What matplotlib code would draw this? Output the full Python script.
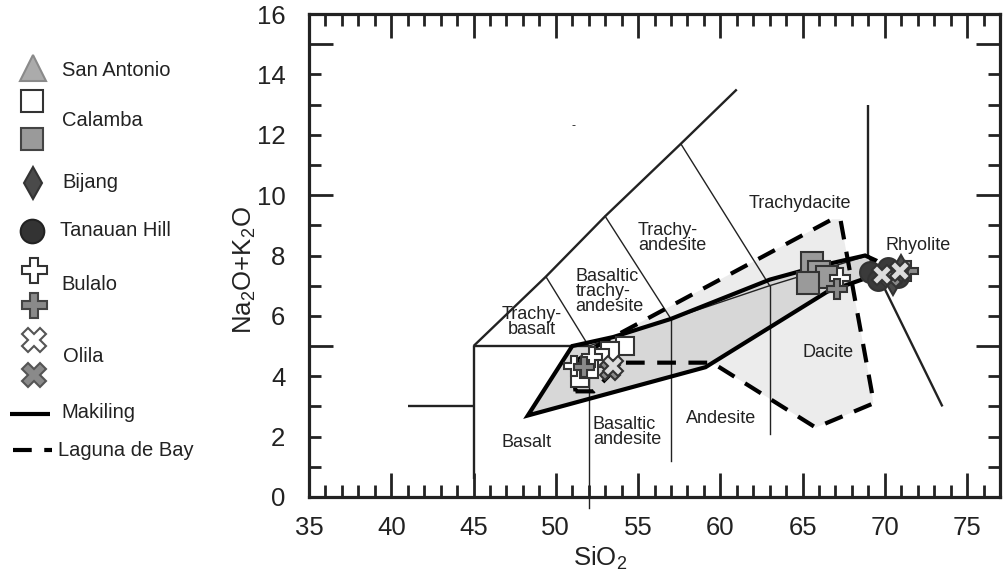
import matplotlib
matplotlib.use('Agg')
import matplotlib.pyplot as plt
from matplotlib.ticker import MultipleLocator

plt.rcParams['font.family'] = ['Liberation Sans', 'DejaVu Sans']
plt.rcParams['mathtext.fontset'] = 'custom'
plt.rcParams['mathtext.rm'] = 'Liberation Sans'
plt.rcParams['mathtext.it'] = 'Liberation Sans:italic'

INK = '#222222'

# ---- TAS classification boundaries (SiO2, Na2O+K2O) ----
tas_thick_lines = [
    ([41, 45], [3, 3]),
    ([45, 45], [0.6, 5]),
    ([45, 52], [5, 5]),
    ([45, 49.4, 53, 57.6, 61], [5, 7.3, 9.3, 11.7, 13.5]),
    ([69, 69], [8, 13]),
    ([69, 73.5], [8, 3]),
]
tas_thin_lines = [
    ([57, 57], [1.2, 5.9]),
    ([63, 63], [2.1, 7]),
    ([49.4, 52], [7.3, 5]),
    ([53, 57], [9.3, 5.9]),
    ([57.6, 63], [11.7, 7]),
    ([52, 57, 63, 69], [5, 5.9, 7, 8]),
]
tas_line_52 = ([52, 52], [-0.35, 5])

# ---- fields ----
makiling_sio2 = [48.3, 51.0, 53.5, 57.0, 63.0, 66.0, 68.8, 69.4, 68.6, 66.5, 59.1]
makiling_alk = [2.7, 5.0, 5.3, 5.9, 7.2, 7.65, 8.0, 7.85, 7.2, 6.8, 4.3]

laguna_sio2 = [51.2, 52.3, 54.0, 59.5, 65.8, 69.3, 69.2, 67.3, 66.8, 54.0, 52.5, 51.0]
laguna_alk = [3.5, 3.5, 4.45, 4.45, 2.3, 3.1, 3.5, 9.2, 9.2, 5.45, 5.0, 4.4]

# ---- samples ----
calamba_open_sio2 = [54.2, 53.3, 52.7, 51.5, 52.0]
calamba_open_alk = [5.0, 4.85, 4.6, 3.95, 4.25]
calamba_gray_sio2 = [65.6, 66.0, 66.5, 65.3]
calamba_gray_alk = [7.75, 7.45, 7.3, 7.1]
bulalo_open_sio2 = [51.1, 52.2, 67.3]
bulalo_open_alk = [4.35, 4.65, 7.25]
bulalo_gray_sio2 = [51.7, 67.1, 71.4]
bulalo_gray_alk = [4.3, 6.9, 7.5]
olila_open_sio2 = [53.5, 69.8, 70.9]
olila_open_alk = [4.35, 7.35, 7.5]
olila_gray_sio2 = [53.3, 70.4]
olila_gray_alk = [4.2, 7.3]
tanauan_sio2 = [69.1, 69.6, 70.2, 70.8]
tanauan_alk = [7.45, 7.2, 7.6, 7.3]
bijang_sio2 = [70.5, 71.0]
bijang_alk = [7.15, 7.55]

# ---- field names ----
field_labels = ['Trachy-\nbasalt', 'Basaltic\ntrachy-\nandesite', 'Trachy-\nandesite',
                'Trachydacite', 'Rhyolite', 'Dacite', 'Andesite',
                'Basaltic\nandesite', 'Basalt']
field_x = [48.55, 51.2, 55.0, 64.85, 72.0, 66.55, 60.05, 52.26, 48.2]
field_y = [5.8, 6.82, 8.58, 9.73, 8.34, 4.8, 2.6, 2.15, 1.82]
field_ha = ['center', 'left', 'left', 'center', 'center', 'center', 'center', 'left', 'center']

legend_labels = ['San Antonio', 'Calamba', 'Bijang', 'Tanauan Hill', 'Bulalo', 'Olila',
                 'Makiling', 'Laguna de Bay']

fig = plt.figure(figsize=(10.06, 5.8), dpi=100)
ax = fig.add_axes([309 / 1006, 1 - 497 / 580, 691 / 1006, 483 / 580])
ax.set_xlim(35, 77)
ax.set_ylim(0, 16)

# fills
ax.fill(laguna_sio2, laguna_alk, facecolor='#ececec', edgecolor='none', zorder=1)
ax.fill(makiling_sio2, makiling_alk, facecolor='#d7d7d7', edgecolor='none', zorder=1.5)

for xs, ys in tas_thick_lines:
    ax.plot(xs, ys, color=INK, lw=1.7, zorder=2, solid_capstyle='butt')
for xs, ys in tas_thin_lines:
    ax.plot(xs, ys, color=INK, lw=1.0, zorder=2)
ax.plot(*tas_line_52, color=INK, lw=1.0, zorder=2, clip_on=False)

# outlines
ax.fill(laguna_sio2, laguna_alk, facecolor='none', edgecolor='black', lw=3.0,
        linestyle=(0, (4.5, 3.0)), zorder=3)
ax.fill(makiling_sio2, makiling_alk, facecolor='none', edgecolor='black', lw=3.0,
        joinstyle='miter', zorder=3.2)

# samples
ms_kw = dict(linestyle='none', markeredgecolor='#333333', markeredgewidth=1.5, zorder=5)
ax.plot(calamba_open_sio2, calamba_open_alk, marker='s', markersize=13,
        markerfacecolor='white', **ms_kw)
ax.plot(calamba_gray_sio2, calamba_gray_alk, marker='s', markersize=16,
        markerfacecolor='#9a9a9a', **ms_kw)
ax.plot(bulalo_open_sio2, bulalo_open_alk, marker='P', markersize=14,
        markerfacecolor='white', **ms_kw)
ax.plot(bulalo_gray_sio2, bulalo_gray_alk, marker='P', markersize=14,
        markerfacecolor='#8a8a8a', **ms_kw)
ax.plot(tanauan_sio2, tanauan_alk, marker='o', markersize=15,
        markerfacecolor='#3a3a3a', **ms_kw)
ax.plot(bijang_sio2, bijang_alk, marker='d', markersize=14,
        markerfacecolor='#4a4a4a', **ms_kw)
ax.plot(olila_gray_sio2, olila_gray_alk, marker='X', markersize=14,
        markerfacecolor='#8a8a8a', **ms_kw)
ax.plot(olila_open_sio2, olila_open_alk, marker='X', markersize=14,
        markerfacecolor='#dddddd', **ms_kw)

for lab, x, y, ha in zip(field_labels, field_x, field_y, field_ha):
    ax.text(x, y, lab, ha=ha, va='center', fontsize=13, color=INK,
            linespacing=0.85, zorder=4)
ax.text(51.1, 12.3, '-', ha='center', va='center', fontsize=9, color=INK)

# axes styling
for sp in ax.spines.values():
    sp.set_linewidth(2.3)
    sp.set_color(INK)
ax.xaxis.set_major_locator(MultipleLocator(5))
ax.xaxis.set_minor_locator(MultipleLocator(1))
ax.yaxis.set_major_locator(MultipleLocator(5))
ax.yaxis.set_minor_locator(MultipleLocator(1))
ax.tick_params(which='both', direction='in', top=True, right=True, width=2.0, color=INK)
ax.tick_params(which='major', length=17)
ax.tick_params(which='minor', length=8.5)
ax.tick_params(axis='x', labelsize=18.5, pad=14, labelcolor=INK)
ax.tick_params(axis='y', labelleft=False)

sec = ax.secondary_yaxis('left')
sec.set_yticks(range(0, 17, 2))
sec.tick_params(length=0, labelsize=18.5, pad=17, labelcolor=INK)
sec.spines['left'].set_visible(False)

fig.text(245 / 1006, 1 - 270 / 580, 'Na$_2$O+K$_2$O', rotation=90, ha='center',
         va='center', fontsize=18.5, color=INK)
fig.text(600 / 1006, 1 - 558 / 580, 'SiO$_2$', ha='center', va='center',
         fontsize=18.5, color=INK)

# ---- legend (figure pixel coordinates) ----
lg = fig.add_axes([0, 0, 0.3, 1])
lg.set_xlim(0, 0.3 * 1006)
lg.set_ylim(580, 0)
lg.axis('off')
lg.patch.set_visible(False)
lk = dict(linestyle='none', markeredgewidth=1.5, clip_on=False)
lg.plot([33], [68], marker='^', markersize=19, markerfacecolor='#ababab',
        markeredgecolor='#8a8a8a', **lk)
lg.plot([32], [101], marker='s', markersize=16, markerfacecolor='white',
        markeredgecolor='#333333', **lk)
lg.plot([32], [139], marker='s', markersize=16, markerfacecolor='#9a9a9a',
        markeredgecolor='#444444', **lk)
lg.plot([33], [183], marker='d', markersize=16, markerfacecolor='#4a4a4a',
        markeredgecolor='#333333', **lk)
lg.plot([32], [231], marker='o', markersize=17, markerfacecolor='#333333',
        markeredgecolor='#222222', **lk)
lg.plot([34], [270], marker='P', markersize=18, markerfacecolor='white',
        markeredgecolor='#333333', **lk)
lg.plot([34], [305], marker='P', markersize=18, markerfacecolor='#8a8a8a',
        markeredgecolor='#444444', **lk)
lg.plot([34], [340], marker='X', markersize=17, markerfacecolor='white',
        markeredgecolor='#555555', **lk)
lg.plot([34], [375], marker='X', markersize=17, markerfacecolor='#8a8a8a',
        markeredgecolor='#555555', **lk)
lg.plot([10, 50], [414, 414], color='black', lw=3.0, solid_capstyle='butt')
lg.plot([13, 52], [450, 450], color='black', lw=3.0, linestyle=(0, (4.5, 3.0)))
leg_x = [62, 62, 62, 60, 61, 63, 61, 58]
leg_y = [70, 120, 182, 230, 285, 357, 413, 450]
for lab, x, y in zip(legend_labels, leg_x, leg_y):
    lg.text(x, y, lab, ha='left', va='center', fontsize=14.5, color=INK)

fig.savefig('out.png', dpi=100)
